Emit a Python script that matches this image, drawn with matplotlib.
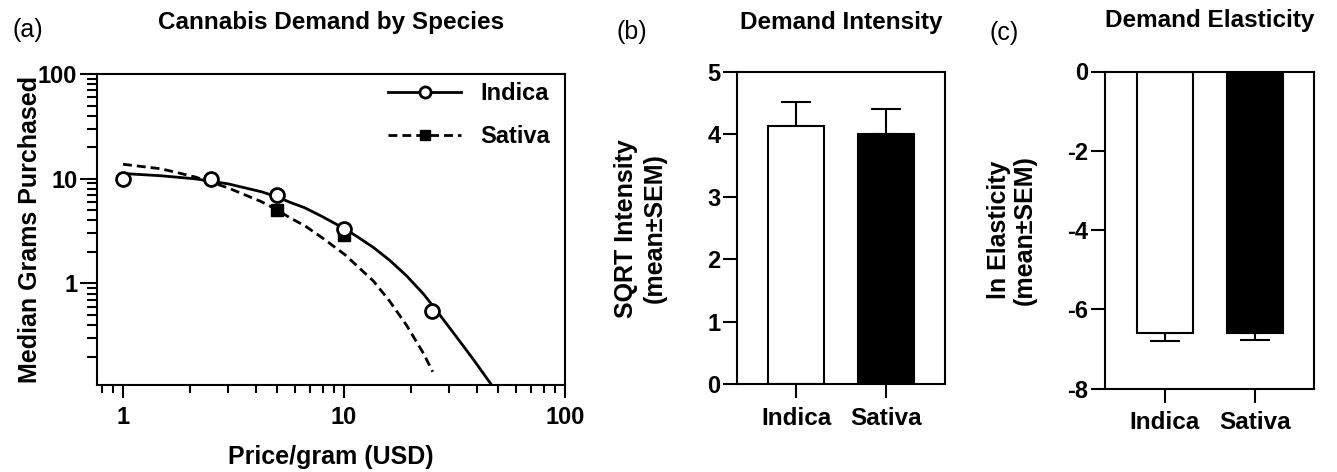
import matplotlib
matplotlib.use("Agg")
import matplotlib.pyplot as plt
from matplotlib.lines import Line2D

plt.rcParams['font.family'] = ['Liberation Sans', 'DejaVu Sans']
plt.rcParams['font.weight'] = 'bold'
plt.rcParams['axes.linewidth'] = 1.5
plt.rcParams['axes.unicode_minus'] = False

# (a) demand data: observed medians
prices = [1, 2.5, 5, 10, 25]
indica_grams = [10, 10, 7, 3.3, 0.55]
sativa_prices = [5, 10]
sativa_grams = [5.0, 2.9]

# fitted demand curves
indica_fit_x = [1, 1.49, 2.11, 2.98, 4.23, 5, 5.67, 6.65, 8.0, 10.1, 11.4,
                13.6, 16.1, 19.2, 22.9, 25.2, 27.2, 32.4, 38.6, 46.7]
indica_fit_y = [11.21, 10.66, 9.98, 8.94, 7.50, 6.69, 5.97, 5.27, 4.33, 3.31, 2.82,
                2.20, 1.66, 1.18, 0.791, 0.611, 0.496, 0.305, 0.186, 0.106]
sativa_fit_x = [1, 1.49, 2.11, 2.98, 4.23, 5, 5.67, 6.65, 8.0, 10.1, 13.6,
                16.1, 19.2, 22.9, 25.2]
sativa_fit_y = [13.74, 12.42, 10.42, 8.19, 6.03, 5.03, 4.25, 3.55, 2.71, 1.88, 1.05,
                0.675, 0.397, 0.214, 0.143]

# (b) and (c) bar data
species = ['Indica', 'Sativa']
intensity_mean = [4.13, 4.00]
intensity_sem = [0.39, 0.40]
elasticity_mean = [-6.61, -6.59]
elasticity_sem = [0.19, 0.18]
bar_colors = ['white', 'black']

W, H = 1337, 472
fig = plt.figure(figsize=(W / 100, H / 100), dpi=100)


def axes_px(left, right, top, bottom):
    return fig.add_axes([left / W, 1 - bottom / H, (right - left) / W, (bottom - top) / H])


# ---------- panel (a)
ax = axes_px(96.7, 565, 74, 385)
ax.set_xscale('log')
ax.set_yscale('log')
ax.plot(sativa_fit_x, sativa_fit_y, color='black', lw=2, ls=(0, (3.2, 1.8)), zorder=2)
ax.plot(indica_fit_x, indica_fit_y, color='black', lw=2, zorder=2)
ax.plot(sativa_prices, sativa_grams, ls='none', marker='s', ms=9, color='black', zorder=3)
ax.plot(prices, indica_grams, ls='none', marker='o', ms=10, mfc='white', mec='black',
        mew=2, zorder=4)
ax.set_xlim(0.76, 100)
ax.set_ylim(0.107, 100)
ax.set_xticks([1, 10, 100])
ax.set_xticklabels(['1', '10', '100'])
ax.set_yticks([1, 10, 100])
ax.set_yticklabels(['1', '10', '100'])
ax.tick_params(axis='both', which='major', width=1.5, labelsize=17)
ax.tick_params(axis='x', which='major', length=9, pad=6)
ax.tick_params(axis='x', which='minor', length=6, width=1.5)
ax.tick_params(axis='y', which='major', length=12, pad=2)
ax.tick_params(axis='y', which='minor', length=7, width=1.5)
ax.set_xlabel('Price/gram (USD)', fontsize=18, fontweight='bold')
ax.set_ylabel('Median Grams Purchased', fontsize=18, fontweight='bold')
ax.xaxis.set_label_coords(0.5, -0.23)
ax.xaxis.label.set_va('center')
ax.yaxis.set_label_coords(-0.142, 0.5)
ax.yaxis.label.set_va('center')

handles = [
    Line2D([], [], color='black', lw=2, marker='o', ms=8, mfc='white', mew=2),
    Line2D([], [], color='black', lw=2, ls=(0, (3.2, 1.8)), marker='s', ms=7),
]
ax.legend(handles, ['Indica', 'Sativa'], loc='upper right', bbox_to_anchor=(0.968, 0.975),
          frameon=False, fontsize=17, handlelength=3.1, handletextpad=0.8,
          labelspacing=0.85, borderpad=0, borderaxespad=0)


def bar_panel(ax, means, sems, upward):
    ax.bar([0, 1], means, width=0.62, color=bar_colors, edgecolor='black', linewidth=1.5,
           zorder=2)
    if upward:
        yerr = [[0, 0], sems]
    else:
        yerr = [sems, [0, 0]]
    ax.errorbar([0, 1], means, yerr=yerr, fmt='none', ecolor='black', elinewidth=1.5,
                capsize=10.5, capthick=1.5, zorder=1)
    ax.set_xlim(-0.66, 1.66)
    ax.set_xticks([0, 1])
    ax.set_xticklabels(species, fontsize=17.5, fontweight='bold')
    ax.tick_params(axis='x', length=10, width=1.5, pad=6)
    ax.tick_params(axis='y', length=10, width=1.5, pad=2, labelsize=17)


# ---------- panel (b)
bx = axes_px(737, 945, 72, 384.3)
bar_panel(bx, intensity_mean, intensity_sem, True)
bx.set_ylim(0, 5)
bx.set_yticks(range(0, 6))
bx.set_ylabel('SQRT Intensity\n(mean±SEM)', fontsize=18, fontweight='bold', linespacing=1.25)
bx.yaxis.set_label_coords(-0.464, 0.5)
bx.yaxis.label.set_va('center')

# ---------- panel (c)
cx = axes_px(1105, 1314.3, 71.5, 388.5)
bar_panel(cx, elasticity_mean, elasticity_sem, False)
cx.set_ylim(-8, 0)
cx.set_yticks(range(-8, 1, 2))
cx.set_ylabel('ln Elasticity\n(mean±SEM)', fontsize=18, fontweight='bold', linespacing=1.1)
cx.yaxis.set_label_coords(-0.444, 0.5)
cx.yaxis.label.set_va('center')

# titles and panel letters
fig.text(331 / W, 1 - 22 / H, 'Cannabis Demand by Species', ha='center', va='center',
         fontsize=17.5, fontweight='bold')
fig.text(841 / W, 1 - 23 / H, 'Demand Intensity', ha='center', va='center',
         fontsize=17.5, fontweight='bold')
fig.text(1210 / W, 1 - 21 / H, 'Demand Elasticity', ha='center', va='center',
         fontsize=17.5, fontweight='bold')
for x, y, s in [(28, 30, '(a)'), (632, 32, '(b)'), (1004, 33, '(c)')]:
    fig.text(x / W, 1 - y / H, s, ha='center', va='center', fontsize=18, fontweight='normal')

fig.savefig('out.png', dpi=100)
